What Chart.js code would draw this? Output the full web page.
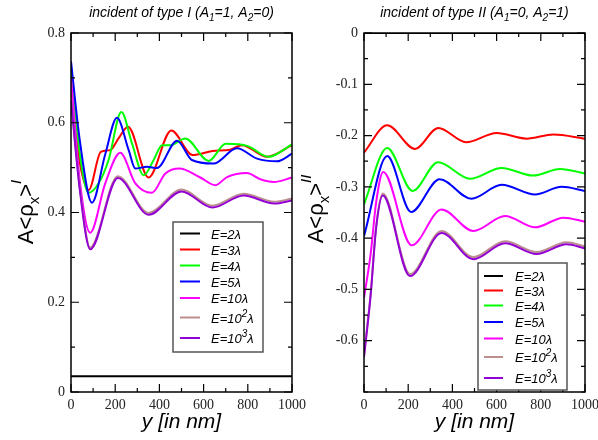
<!DOCTYPE html>
<html>
<head>
<meta charset="utf-8">
<script src="https://cdn.jsdelivr.net/npm/chart.js@4.4.1/dist/chart.umd.min.js"></script>
<style>
    body { margin: 0; background: #fff; }
    canvas { position: absolute; top: 0; }
    #typeOne { left: 0; }
    #typeTwo { left: 300px; }
</style>
</head>
<body>
<canvas id="typeOne" width="330" height="440"></canvas>
<canvas id="typeTwo" width="298" height="440"></canvas>
<script>
// legend entries, same for both panels
const energyLabels = ['E=2λ', 'E=3λ', 'E=4λ', 'E=5λ', 'E=10λ', 'E=10²λ', 'E=10³λ'];

// axis tick labels
const xTickValues = [0, 200, 400, 600, 800, 1000];
const yTickValuesOne = [0, 0.2, 0.4, 0.6, 0.8];
const yTickLabelsOne = ['0', '0.2', '0.4', '0.6', '0.8'];
const yTickValuesTwo = [0, -0.1, -0.2, -0.3, -0.4, -0.5, -0.6];
const yTickLabelsTwo = ['0', '-0.1', '-0.2', '-0.3', '-0.4', '-0.5', '-0.6'];

// type I  (A1=1, A2=0), y in nm -> A<rho_x>^I
const yOne_E2 = [0, 1000];
const vOne_E2 = [0.035, 0.035];
const yOne_E3 = [0, 40, 80, 135, 178, 215, 258, 351, 454, 550, 640, 720, 774, 887, 1000];
const vOne_E3 = [0.666, 0.51, 0.45, 0.535, 0.539, 0.565, 0.591, 0.478, 0.583, 0.528, 0.537, 0.54, 0.55, 0.524, 0.55];
const yOne_E4 = [0, 40, 80, 125, 170, 228, 276, 329, 374, 412, 449, 517, 623, 700, 800, 894, 1000];
const vOne_E4 = [0.725, 0.53, 0.444, 0.465, 0.517, 0.624, 0.554, 0.483, 0.517, 0.55, 0.55, 0.565, 0.515, 0.553, 0.548, 0.524, 0.552];
const yOne_E5 = [0, 40, 95, 155, 208, 261, 291, 344, 389, 480, 547, 645, 751, 842, 932, 1000];
const vOne_E5 = [0.737, 0.56, 0.422, 0.53, 0.611, 0.539, 0.498, 0.502, 0.499, 0.56, 0.517, 0.509, 0.543, 0.52, 0.514, 0.531];
const yOne_E10 = [0, 40, 87, 155, 223, 291, 366, 427, 490, 585, 653, 706, 796, 857, 917, 1000];
const vOne_E10 = [0.70, 0.47, 0.355, 0.465, 0.533, 0.465, 0.444, 0.487, 0.498, 0.478, 0.461, 0.479, 0.488, 0.474, 0.468, 0.478];
const yOne_E100 = [0, 40, 87, 212, 351, 500, 640, 781, 920, 1000];
const vOne_E100 = [0.654, 0.454, 0.322, 0.481, 0.399, 0.451, 0.415, 0.442, 0.424, 0.431];
const yOne_E1000 = [0, 40, 87, 212, 351, 500, 640, 781, 920, 1000];
const vOne_E1000 = [0.65, 0.45, 0.318, 0.477, 0.395, 0.447, 0.411, 0.438, 0.42, 0.427];

// type II (A1=0, A2=1), y in nm -> A<rho_x>^II
const yTwo_E2 = [0, 1000];
const vTwo_E2 = [0, 0];
const yTwo_E3 = [0, 105, 231, 336, 462, 600, 736, 857, 1000];
const vTwo_E3 = [-0.233, -0.180, -0.226, -0.185, -0.213, -0.195, -0.206, -0.198, -0.206];
const yTwo_E4 = [0, 105, 220, 335, 480, 623, 766, 887, 1000];
const vTwo_E4 = [-0.334, -0.224, -0.308, -0.252, -0.284, -0.263, -0.278, -0.265, -0.274];
const yTwo_E5 = [0, 105, 213, 342, 486, 623, 774, 894, 1000];
const vTwo_E5 = [-0.396, -0.24, -0.349, -0.285, -0.323, -0.296, -0.315, -0.30, -0.308];
const yTwo_E10 = [0, 30, 55, 87, 216, 351, 495, 638, 774, 903, 1000];
const vTwo_E10 = [-0.516, -0.431, -0.33, -0.271, -0.414, -0.344, -0.386, -0.357, -0.379, -0.36, -0.368];
const yTwo_E100 = [0, 30, 55, 85, 208, 351, 495, 638, 781, 917, 1000];
const vTwo_E100 = [-0.628, -0.508, -0.376, -0.313, -0.470, -0.386, -0.437, -0.406, -0.427, -0.408, -0.416];
const yTwo_E1000 = [0, 30, 55, 85, 208, 351, 495, 638, 781, 917, 1000];
const vTwo_E1000 = [-0.632, -0.512, -0.38, -0.317, -0.474, -0.39, -0.441, -0.41, -0.431, -0.412, -0.42];

const lineColors = ['#000000', '#ff0000', '#00ff00', '#0000ff', '#ff00ff', '#bc8f8f', '#9400d3'];
const tickFont = { family: '"Liberation Serif", "DejaVu Serif", serif', size: 14 };
const sansFont = '"Liberation Sans", Arial, sans-serif';
const superDigits = { '²': '2', '³': '3' };

function near(list, v) {
    return list.findIndex(m => Math.abs(m - v) < 1e-6);
}

function toPoints(xs, vs) {
    return xs.map((x, i) => ({ x: x, y: vs[i] }));
}

// draws text pieces in a row; each piece: [text, font, yShift]
function drawPieces(ctx, pieces, startX, baseY) {
    let x = startX;
    pieces.forEach(p => {
        ctx.font = p[1];
        ctx.fillText(p[0], x, baseY + p[2]);
        x += ctx.measureText(p[0]).width;
    });
}

function piecesWidth(ctx, pieces) {
    let w = 0;
    pieces.forEach(p => { ctx.font = p[1]; w += ctx.measureText(p[0]).width; });
    return w;
}

// legend label -> pieces, raising the power digit
function labelPieces(label) {
    const lf = 'italic 13px ' + sansFont;
    const sf = 'italic 10px ' + sansFont;
    const out = [];
    let buf = '';
    for (const ch of label) {
        if (superDigits[ch]) {
            out.push([buf, lf, 0]);
            out.push([superDigits[ch], sf, -6]);
            buf = '';
        } else {
            buf += ch;
        }
    }
    out.push([buf, lf, 0]);
    return out;
}

const decorPlugin = {
    id: 'decor',
    afterDraw(chart, args, opts) {
        const { ctx, chartArea: a, scales } = chart;
        ctx.save();
        // frame
        ctx.strokeStyle = '#000';
        ctx.lineWidth = 1.5;
        ctx.strokeRect(a.left, a.top, a.width, a.height);
        // inward ticks on all four sides
        ctx.lineWidth = 1.2;
        ctx.beginPath();
        scales.x.ticks.forEach(t => {
            const px = scales.x.getPixelForValue(t.value);
            const len = near(xTickValues, t.value) >= 0 ? 8 : 4;
            ctx.moveTo(px, a.bottom); ctx.lineTo(px, a.bottom - len);
            ctx.moveTo(px, a.top); ctx.lineTo(px, a.top + len);
        });
        scales.y.ticks.forEach(t => {
            const py = scales.y.getPixelForValue(t.value);
            const len = near(opts.yMajor, t.value) >= 0 ? 8 : 4;
            ctx.moveTo(a.left, py); ctx.lineTo(a.left + len, py);
            ctx.moveTo(a.right, py); ctx.lineTo(a.right - len, py);
        });
        ctx.stroke();

        ctx.fillStyle = '#000';
        ctx.textBaseline = 'alphabetic';
        ctx.textAlign = 'left';
        // title with subscripts
        const tf = 'italic 14px ' + sansFont;
        const sf = 'italic 10px ' + sansFont;
        const title = [[opts.titleHead, tf, 0], ['1', sf, 4], ['=' + opts.v1 + ', A', tf, 0], ['2', sf, 4], ['=' + opts.v2 + ')', tf, 0]];
        const tw = piecesWidth(ctx, title);
        drawPieces(ctx, title, (a.left + a.right) / 2 - tw / 2, 17);

        // x axis title
        ctx.font = 'italic 21px ' + sansFont;
        ctx.textAlign = 'center';
        ctx.fillText('y [in nm]', (a.left + a.right) / 2, 428);

        // y axis title, rotated
        ctx.textAlign = 'left';
        ctx.save();
        ctx.translate(opts.yTitleX, opts.yTitleY);
        ctx.rotate(-Math.PI / 2);
        const big = '22px ' + sansFont;
        const yt = [['A<ρ', big, 0], ['x', '15px ' + sansFont, 6], ['>', big, 0], [opts.sup, 'italic 15px ' + sansFont, -12]];
        const yw = piecesWidth(ctx, yt);
        drawPieces(ctx, yt, -yw / 2, 0);
        ctx.restore();

        // legend box
        const lg = opts.legend;
        ctx.fillStyle = '#fff';
        ctx.fillRect(lg.left, lg.top, lg.right - lg.left, lg.bottom - lg.top);
        ctx.strokeStyle = '#555';
        ctx.lineWidth = 1.5;
        ctx.strokeRect(lg.left, lg.top, lg.right - lg.left, lg.bottom - lg.top);
        chart.data.datasets.forEach((ds, i) => {
            const ry = lg.rows[i];
            ctx.strokeStyle = ds.borderColor;
            ctx.lineWidth = 2;
            ctx.beginPath();
            ctx.moveTo(lg.lineFrom, ry); ctx.lineTo(lg.lineTo, ry);
            ctx.stroke();
            ctx.fillStyle = '#000';
            drawPieces(ctx, labelPieces(ds.label), lg.textX, ry + 5);
        });
        ctx.restore();
    }
};

function createPanel(canvas_id, seriesX, seriesV, yMin, yMax, yStep, yMajor, yLabels, yWidth, padRight, decor) {
    const ctx = document.getElementById(canvas_id);
    const datasets = energyLabels.map((label, i) => ({
        label: label,
        data: toPoints(seriesX[i], seriesV[i]),
        borderColor: lineColors[i],
        borderWidth: 2,
        pointRadius: 0,
        fill: false,
        cubicInterpolationMode: 'monotone',
        order: 7 - i
    }));
    return new Chart(ctx, {
        type: 'line',
        data: { datasets: datasets },
        plugins: [decorPlugin],
        options: {
            responsive: false,
            animation: false,
            layout: { padding: { top: 33, right: padRight, left: 0, bottom: 0 } },
            plugins: {
                legend: { display: false },
                tooltip: { enabled: false },
                decor: decor
            },
            scales: {
                x: {
                    type: 'linear',
                    min: 0,
                    max: 1000,
                    grid: { display: false, drawTicks: false },
                    border: { display: false },
                    ticks: {
                        stepSize: 100,
                        autoSkip: false,
                        maxRotation: 0,
                        padding: 5,
                        color: '#222',
                        font: tickFont,
                        callback: (v) => near(xTickValues, v) >= 0 ? String(v) : ''
                    },
                    afterFit: (s) => { s.height = 48; s.paddingLeft = 0; s.paddingRight = 0; }
                },
                y: {
                    min: yMin,
                    max: yMax,
                    grid: { display: false, drawTicks: false },
                    border: { display: false },
                    ticks: {
                        stepSize: yStep,
                        autoSkip: false,
                        padding: 6,
                        color: '#222',
                        font: tickFont,
                        callback: (v) => {
                            const k = near(yMajor, v);
                            return k >= 0 ? yLabels[k] : '';
                        }
                    },
                    afterFit: (s) => { s.width = yWidth; s.paddingTop = 0; s.paddingBottom = 0; }
                }
            }
        }
    });
}

createPanel('typeOne',
    [yOne_E2, yOne_E3, yOne_E4, yOne_E5, yOne_E10, yOne_E100, yOne_E1000],
    [vOne_E2, vOne_E3, vOne_E4, vOne_E5, vOne_E10, vOne_E100, vOne_E1000],
    0, 0.8, 0.1, yTickValuesOne, yTickLabelsOne, 71, 38,
    {
        yMajor: yTickValuesOne,
        titleHead: 'incident of type I (A', v1: '1', v2: '0',
        sup: 'I', yTitleX: 33, yTitleY: 212,
        legend: { left: 173, top: 222, right: 263, bottom: 352, lineFrom: 180, lineTo: 200, textX: 211,
                  rows: [233.5, 249.5, 265.5, 281.5, 298, 317.5, 338] }
    });

createPanel('typeTwo',
    [yTwo_E2, yTwo_E3, yTwo_E4, yTwo_E5, yTwo_E10, yTwo_E100, yTwo_E1000],
    [vTwo_E2, vTwo_E3, vTwo_E4, vTwo_E5, vTwo_E10, vTwo_E100, vTwo_E1000],
    -0.7, 0, 0.05, yTickValuesTwo, yTickLabelsTwo, 64, 13,
    {
        yMajor: yTickValuesTwo,
        titleHead: 'incident of type II (A', v1: '0', v2: '1',
        sup: 'II', yTitleX: 23, yTitleY: 209,
        legend: { left: 178, top: 263, right: 267, bottom: 390, lineFrom: 184, lineTo: 203, textX: 215,
                  rows: [276, 290.5, 305.5, 322, 338.5, 357, 378] }
    });
</script>
</body>
</html>
